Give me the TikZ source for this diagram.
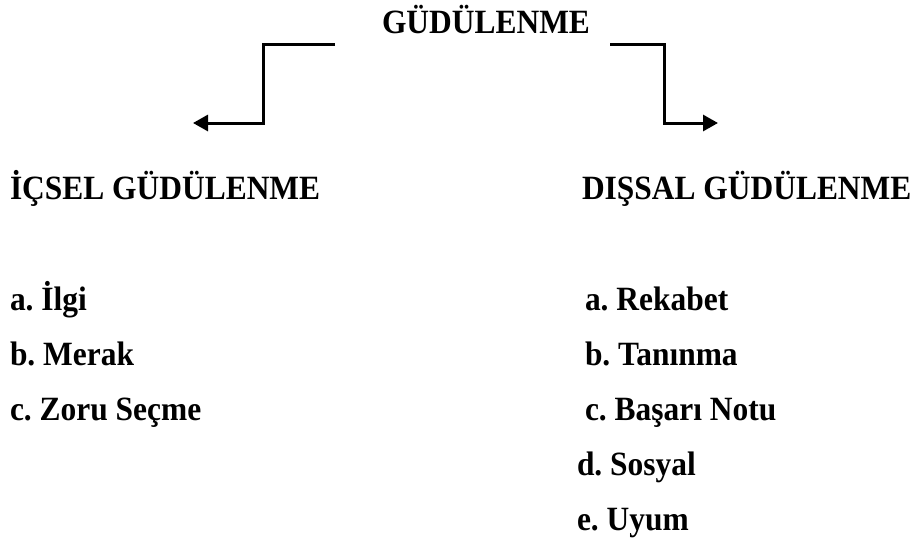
\documentclass[tikz,border=0pt]{standalone}
\usepackage{fontspec}
\setmainfont{Liberation Serif}[FakeStretch=0.925]
\usetikzlibrary{arrows.meta}
\frenchspacing
\begin{document}
\begin{tikzpicture}[x=1pt,y=-1pt,
  txt/.style={anchor=base west,inner sep=0pt,outer sep=0pt,font=\fontsize{34}{39}\selectfont\bfseries},
  conn/.style={line width=3pt,-{Triangle[length=15pt,width=16pt]}}]
\useasboundingbox (0,0) rectangle (913,542);
\node[txt] (title) at (382,33) {GÜDÜLENME};
\node[txt] (ic) at (10,199) {İÇSEL GÜDÜLENME};
\node[txt] (dis) at (582,199) {DIŞSAL GÜDÜLENME};
\node[txt] (ia) at (10,310) {a. İlgi};
\node[txt] (ib) at (10,365) {b. Merak};
\node[txt] (icc) at (10,420) {c. Zoru Seçme};
\node[txt] (da) at (585,310) {a. Rekabet};
\node[txt] (db) at (585,365) {b. Tanınma};
\node[txt] (dc) at (585,420) {c. Başarı Notu};
\node[txt] (dd) at (577,475) {d. Sosyal};
\node[txt] (de) at (577,530) {e. Uyum};
\coordinate (ls) at (335,44);
\coordinate (le) at (193,123);
\coordinate (rs) at (610,44);
\coordinate (re) at (718,123);
\draw[conn] (ls) -- (263,44) |- (le);
\draw[conn] (rs) -- (664,44) |- (re);
\end{tikzpicture}
\end{document}
